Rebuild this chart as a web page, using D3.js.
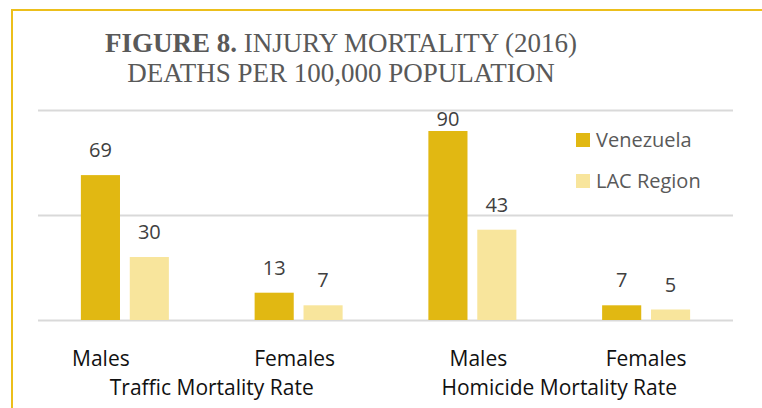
<!DOCTYPE html>
<html>
<head>
<meta charset="utf-8">
<script src="https://cdn.jsdelivr.net/npm/d3@7"></script>
<style>
  body { margin: 0; background: #fff; }
  svg { display: block; }
  .grid line { stroke: #d9d9d9; stroke-width: 2; }
  .grid .domain { display: none; }
  .lbl { font-family: "Open Sans", sans-serif; }
</style>
</head>
<body>
<svg id="chart" width="762" height="408"></svg>
<script>
// values
const groups = ["Traffic Mortality Rate", "Homicide Mortality Rate"];
const subgroups = ["Males", "Females"];
const series = ["Venezuela", "LAC Region"];
const venezuela = [69, 13, 90, 7];
const lacRegion = [30, 7, 43, 5];
const yTicks = [0, 50, 100];
const colors = ["#e1b812", "#f8e59c"];

// the original labels are not exactly centred under their bars
const catNudge = [-24, -4, 6, 0];

let rows = venezuela.map(function (v, i) {
    return {
        idx: i,
        group: groups[Math.floor(i / 2)],
        sub: subgroups[i % 2],
        vals: [v, lacRegion[i]]
    };
});

let svg = d3.select("#chart"),
    margin = {top: 110, right: 29, bottom: 88, left: 38},
    width = 762 - margin.left - margin.right,
    height = 408 - margin.top - margin.bottom;

// gold frame
svg.append("path")
    .attr("d", "M12,420V10H770")
    .attr("fill", "none")
    .attr("stroke", "#ecbf1b")
    .attr("stroke-width", 2);

// title
let title = svg.append("text")
    .attr("x", 341)
    .attr("y", 52)
    .attr("text-anchor", "middle")
    .style("font-family", "'Liberation Serif', serif")
    .style("font-size", "27px")
    .attr("fill", "#595959");
title.append("tspan").attr("font-weight", "bold").text("FIGURE 8.");
title.append("tspan").text(" INJURY MORTALITY (2016)");
svg.append("text")
    .attr("x", 341)
    .attr("y", 82)
    .attr("text-anchor", "middle")
    .style("font-family", "'Liberation Serif', serif")
    .style("font-size", "27px")
    .attr("fill", "#595959")
    .text("DEATHS PER 100,000 POPULATION");

let g = svg.append("g").attr("transform", "translate(" + margin.left + "," + margin.top + ")");

let x = d3.scaleBand()
    .domain(rows.map(function (d) { return d.idx; }))
    .range([0, width]);

let y = d3.scaleLinear()
    .domain([0, 100])
    .range([height, 0]);

g.append("g")
    .attr("class", "grid")
    .call(d3.axisLeft(y).tickValues(yTicks).tickSize(-width).tickFormat(""));

let groupW = 88;
let xs = d3.scaleBand()
    .domain(series)
    .range([0, groupW])
    .paddingInner(0.2);

let bar = g.selectAll(".bar")
    .data(rows)
    .enter().append("g")
    .attr("class", "bar")
    .attr("transform", function (d) {
        return "translate(" + (x(d.idx) + x.bandwidth() / 2 - groupW / 2) + ",0)";
    });

bar.selectAll("rect")
    .data(function (d) { return d.vals; })
    .enter().append("rect")
    .attr("x", function (d, i) { return xs(series[i]); })
    .attr("y", function (d) { return y(d); })
    .attr("width", xs.bandwidth())
    .attr("height", function (d) { return height - y(d); })
    .attr("fill", function (d, i) { return colors[i]; });

bar.selectAll("text")
    .data(function (d) { return d.vals; })
    .enter().append("text")
    .attr("class", "lbl")
    .attr("x", function (d, i) { return xs(series[i]) + xs.bandwidth() / 2; })
    .attr("y", function (d) { return Math.max(y(d) - 18, 16); })
    .attr("text-anchor", "middle")
    .style("font-size", "20px")
    .attr("fill", "#404040")
    .text(function (d) { return d; });

// category labels
g.selectAll(".cat")
    .data(rows)
    .enter().append("text")
    .attr("class", "lbl cat")
    .attr("x", function (d) { return x(d.idx) + x.bandwidth() / 2 + catNudge[d.idx]; })
    .attr("y", height + 46)
    .attr("text-anchor", "middle")
    .style("font-size", "21px")
    .attr("fill", "#111")
    .text(function (d) { return d.sub; });

g.selectAll(".grp")
    .data(groups)
    .enter().append("text")
    .attr("class", "lbl grp")
    .attr("x", function (d, i) { return x(i * 2) + x.bandwidth(); })
    .attr("y", height + 75)
    .attr("text-anchor", "middle")
    .style("font-size", "21px")
    .attr("fill", "#111")
    .text(function (d) { return d; });

// legend
let legend = svg.selectAll(".legend")
    .data(series)
    .enter().append("g")
    .attr("class", "legend")
    .attr("transform", function (d, i) { return "translate(576," + (133 + i * 41) + ")"; });

legend.append("rect")
    .attr("width", 14)
    .attr("height", 14)
    .attr("fill", function (d, i) { return colors[i]; });

legend.append("text")
    .attr("class", "lbl")
    .attr("x", 20)
    .attr("y", 14)
    .style("font-size", "20px")
    .attr("fill", "#595959")
    .text(function (d) { return d; });
</script>
</body>
</html>
